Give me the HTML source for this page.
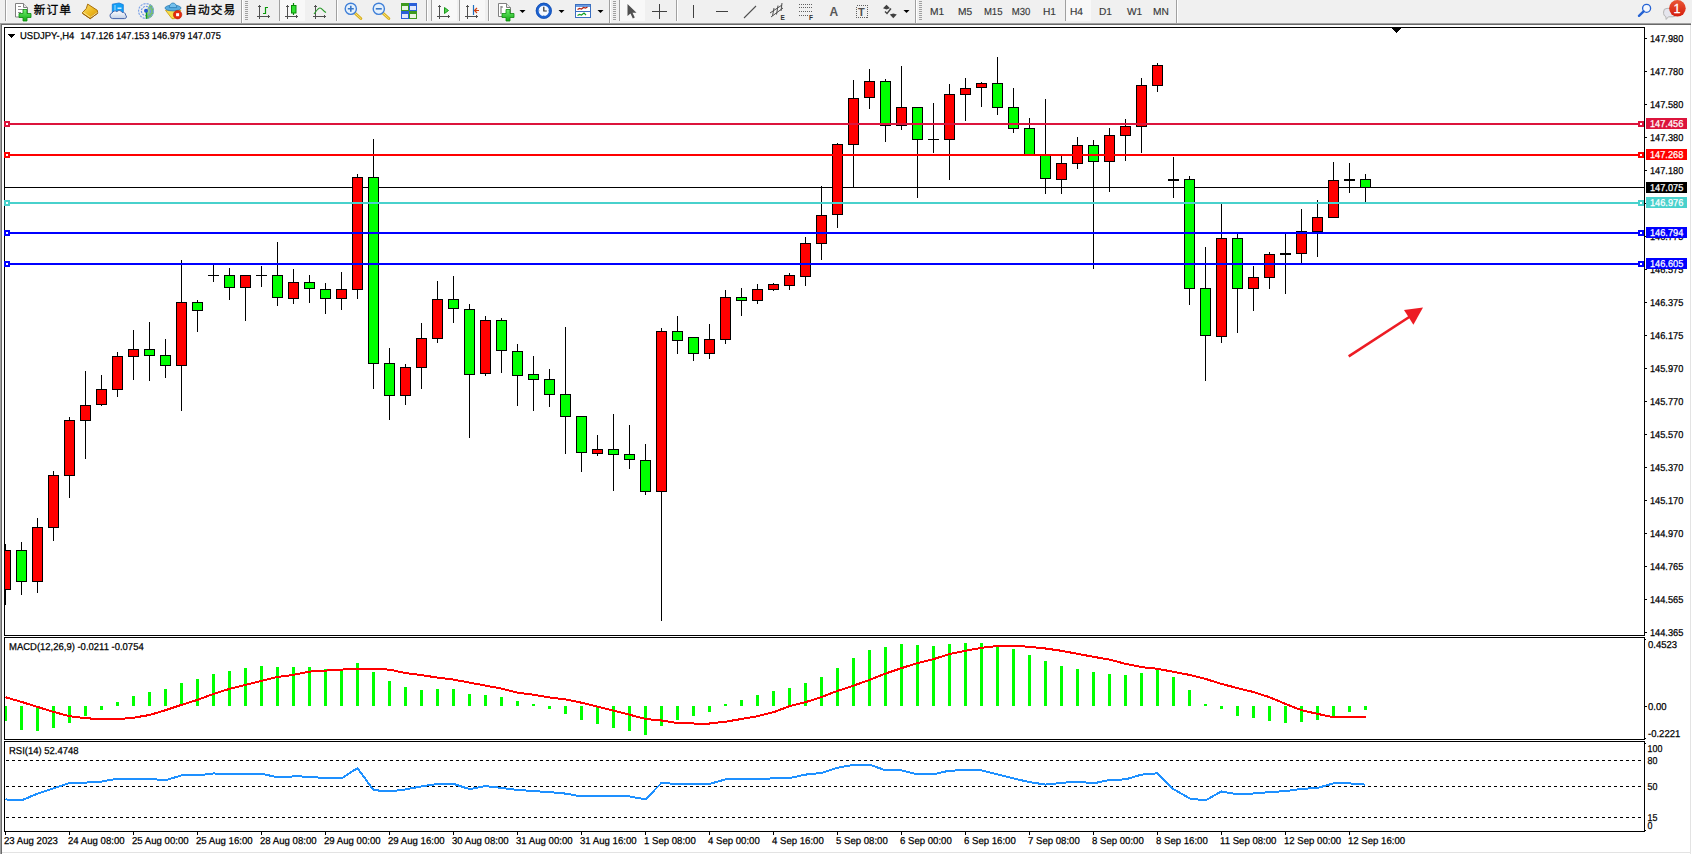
<!DOCTYPE html>
<html><head><meta charset="utf-8"><title>USDJPY-,H4</title>
<style>
html,body{margin:0;padding:0;background:#fff;}
body{width:1692px;height:854px;overflow:hidden;position:relative;font-family:"Liberation Sans","Noto Sans CJK SC",sans-serif;}
#tb{position:absolute;left:0;top:0;width:1692px;height:23px;background:#f0f0f0;overflow:hidden;}
#tb .t{position:absolute;white-space:nowrap;color:#000;}
#tb .cn{font-size:11.7px;line-height:14px;top:3.2px;letter-spacing:1.1px;-webkit-text-stroke:0.3px #000;}
#tb .tf{font-size:9.5px;line-height:12px;top:6px;color:#3c3c3c;}
#tb svg{position:absolute;left:0;top:0;}
#chart{position:absolute;left:0;top:23px;display:block;}
</style></head>
<body>
<div id="tb">
<svg width="1692" height="23" viewBox="0 0 1692 23">
<rect x="5" y="0" width="1" height="21" fill="#a0a0a0" shape-rendering="crispEdges"/><rect x="6" y="0" width="1" height="21" fill="#fff" shape-rendering="crispEdges"/>
<rect x="336" y="0" width="1" height="21" fill="#a0a0a0" shape-rendering="crispEdges"/><rect x="337" y="0" width="1" height="21" fill="#fff" shape-rendering="crispEdges"/>
<rect x="426" y="0" width="1" height="21" fill="#a0a0a0" shape-rendering="crispEdges"/><rect x="427" y="0" width="1" height="21" fill="#fff" shape-rendering="crispEdges"/>
<rect x="488" y="0" width="1" height="21" fill="#a0a0a0" shape-rendering="crispEdges"/><rect x="489" y="0" width="1" height="21" fill="#fff" shape-rendering="crispEdges"/>
<rect x="676" y="0" width="1" height="21" fill="#a0a0a0" shape-rendering="crispEdges"/><rect x="677" y="0" width="1" height="21" fill="#fff" shape-rendering="crispEdges"/>
<rect x="241" y="0" width="1" height="23" fill="#a0a0a0" shape-rendering="crispEdges"/><rect x="242" y="0" width="1" height="23" fill="#fff" shape-rendering="crispEdges"/>
<rect x="609" y="0" width="1" height="23" fill="#a0a0a0" shape-rendering="crispEdges"/><rect x="610" y="0" width="1" height="23" fill="#fff" shape-rendering="crispEdges"/>
<rect x="915" y="0" width="1" height="23" fill="#a0a0a0" shape-rendering="crispEdges"/><rect x="916" y="0" width="1" height="23" fill="#fff" shape-rendering="crispEdges"/>
<rect x="1176" y="0" width="1" height="23" fill="#a0a0a0" shape-rendering="crispEdges"/><rect x="1177" y="0" width="1" height="23" fill="#fff" shape-rendering="crispEdges"/>
<rect x="245" y="1" width="3" height="1" fill="#a0a0a0" shape-rendering="crispEdges"/><rect x="245" y="3" width="3" height="1" fill="#a0a0a0" shape-rendering="crispEdges"/><rect x="245" y="5" width="3" height="1" fill="#a0a0a0" shape-rendering="crispEdges"/><rect x="245" y="7" width="3" height="1" fill="#a0a0a0" shape-rendering="crispEdges"/><rect x="245" y="9" width="3" height="1" fill="#a0a0a0" shape-rendering="crispEdges"/><rect x="245" y="11" width="3" height="1" fill="#a0a0a0" shape-rendering="crispEdges"/><rect x="245" y="13" width="3" height="1" fill="#a0a0a0" shape-rendering="crispEdges"/><rect x="245" y="15" width="3" height="1" fill="#a0a0a0" shape-rendering="crispEdges"/><rect x="245" y="17" width="3" height="1" fill="#a0a0a0" shape-rendering="crispEdges"/><rect x="245" y="19" width="3" height="1" fill="#a0a0a0" shape-rendering="crispEdges"/>
<rect x="613" y="1" width="3" height="1" fill="#a0a0a0" shape-rendering="crispEdges"/><rect x="613" y="3" width="3" height="1" fill="#a0a0a0" shape-rendering="crispEdges"/><rect x="613" y="5" width="3" height="1" fill="#a0a0a0" shape-rendering="crispEdges"/><rect x="613" y="7" width="3" height="1" fill="#a0a0a0" shape-rendering="crispEdges"/><rect x="613" y="9" width="3" height="1" fill="#a0a0a0" shape-rendering="crispEdges"/><rect x="613" y="11" width="3" height="1" fill="#a0a0a0" shape-rendering="crispEdges"/><rect x="613" y="13" width="3" height="1" fill="#a0a0a0" shape-rendering="crispEdges"/><rect x="613" y="15" width="3" height="1" fill="#a0a0a0" shape-rendering="crispEdges"/><rect x="613" y="17" width="3" height="1" fill="#a0a0a0" shape-rendering="crispEdges"/><rect x="613" y="19" width="3" height="1" fill="#a0a0a0" shape-rendering="crispEdges"/>
<rect x="919" y="1" width="3" height="1" fill="#a0a0a0" shape-rendering="crispEdges"/><rect x="919" y="3" width="3" height="1" fill="#a0a0a0" shape-rendering="crispEdges"/><rect x="919" y="5" width="3" height="1" fill="#a0a0a0" shape-rendering="crispEdges"/><rect x="919" y="7" width="3" height="1" fill="#a0a0a0" shape-rendering="crispEdges"/><rect x="919" y="9" width="3" height="1" fill="#a0a0a0" shape-rendering="crispEdges"/><rect x="919" y="11" width="3" height="1" fill="#a0a0a0" shape-rendering="crispEdges"/><rect x="919" y="13" width="3" height="1" fill="#a0a0a0" shape-rendering="crispEdges"/><rect x="919" y="15" width="3" height="1" fill="#a0a0a0" shape-rendering="crispEdges"/><rect x="919" y="17" width="3" height="1" fill="#a0a0a0" shape-rendering="crispEdges"/><rect x="919" y="19" width="3" height="1" fill="#a0a0a0" shape-rendering="crispEdges"/>
<rect x="280" y="0" width="25" height="21" fill="#f8f8f8" shape-rendering="crispEdges"/><rect x="279" y="0" width="1" height="21" fill="#a0a0a0" shape-rendering="crispEdges"/>
<rect x="432" y="0" width="25" height="21" fill="#f8f8f8" shape-rendering="crispEdges"/><rect x="431" y="0" width="1" height="21" fill="#a0a0a0" shape-rendering="crispEdges"/>
<rect x="460" y="0" width="25" height="21" fill="#f8f8f8" shape-rendering="crispEdges"/><rect x="459" y="0" width="1" height="21" fill="#a0a0a0" shape-rendering="crispEdges"/>
<rect x="620" y="0" width="25" height="21" fill="#f8f8f8" shape-rendering="crispEdges"/><rect x="619" y="0" width="1" height="21" fill="#a0a0a0" shape-rendering="crispEdges"/>
<rect x="1066" y="0" width="25" height="21" fill="#f8f8f8" shape-rendering="crispEdges"/><rect x="1065" y="0" width="1" height="21" fill="#a0a0a0" shape-rendering="crispEdges"/>
<g><path d="M15.5 3.5h8l4 4v9.5h-12z" fill="#fff" stroke="#808080" stroke-width="1"/><path d="M23.5 3.5v4h4" fill="#e8e8e8" stroke="#808080" stroke-width="1"/><path d="M18 6.5h3M18 9.5h6M18 12.5h3" stroke="#909090" stroke-width="1"/><path d="M23 9.5h4v4h4v4h-4v3.5h-4v-3.5h-4v-4h4z" fill="url(#gp)" stroke="#0d8a0d" stroke-width="0.8"/></g>
<defs><linearGradient id="gd" x1="0" y1="0" x2="1" y2="1"><stop offset="0" stop-color="#fbe070"/><stop offset="0.55" stop-color="#ecb820"/><stop offset="1" stop-color="#d89a10"/></linearGradient><linearGradient id="cl" x1="0" y1="0" x2="0" y2="1"><stop offset="0" stop-color="#ffffff"/><stop offset="1" stop-color="#c4d0e6"/></linearGradient><linearGradient id="gp" x1="0" y1="0" x2="0" y2="1"><stop offset="0" stop-color="#6ff06f"/><stop offset="1" stop-color="#12a812"/></linearGradient><radialGradient id="sg" cx="146" cy="11" r="8" gradientUnits="userSpaceOnUse"><stop offset="0" stop-color="#2aa02a" stop-opacity="0.3"/><stop offset="1" stop-color="#2aa02a" stop-opacity="0.75"/></radialGradient></defs>
<g><path d="M87.7 4.1L97.3 10.3L97.8 13.1L90.2 18.6L82.2 12.9L86.3 8.5Z" fill="url(#gd)" stroke="#a8700c" stroke-width="1" stroke-linejoin="round"/><path d="M83.2 12.4l7.2 5" stroke="#fbe58a" stroke-width="1.1"/><path d="M91 17.3l6.3-4.6" stroke="#f2e8c0" stroke-width="1"/><path d="M82.4 13.4l7.8 5.3l7.5-5.5" fill="none" stroke="#9a620a" stroke-width="1"/></g>
<g><path d="M112.3 4.2l6.8-1.2l4.2 1.6v8.4h-11z" fill="#12a0f6" stroke="#1478d8" stroke-width="0.8"/><path d="M115 5v7" stroke="#9fdcff" stroke-width="1"/><path d="M117.5 8.2h4" stroke="#e8f6ff" stroke-width="1.3"/><path d="M112.6 18.6a2.9 2.9 0 0 1-.4-5.7a3.1 3.1 0 0 1 4.7-1.3a3.2 3.2 0 0 1 5.3.9a2.6 2.6 0 0 1 3.4 2.6a1.9 1.9 0 0 1-1 3.5z" fill="url(#cl)" stroke="#4664aa" stroke-width="1"/></g>
<g fill="none"><path d="M146 11v8a8 8 0 0 0 8-8a8 8 0 0 0-4-6.9z" fill="url(#sg)"/><circle cx="146" cy="11" r="7.4" stroke="#7fa4e8" stroke-width="1.2" stroke-dasharray="2.2 1"/><circle cx="146" cy="11" r="4.6" stroke="#6f98e4" stroke-width="1.2" stroke-dasharray="2 1"/><path d="M146.5 11v7.8" stroke="#18a018" stroke-width="1.5"/><circle cx="146" cy="10.8" r="2" fill="#2458d4"/></g>
<g><path d="M165.5 10.3h15.3l-6.3 8.4h-2.5z" fill="#f8dc48" stroke="#c89a08" stroke-width="0.8" stroke-linejoin="round"/><ellipse cx="173" cy="8" rx="8" ry="2.9" fill="#58acdf" stroke="#2a7cb4" stroke-width="0.8"/><path d="M169.3 7.6a3.7 4.6 0 0 1 7.4 0z" fill="#74c0ec" stroke="#2a7cb4" stroke-width="0.8"/><circle cx="177.6" cy="14.7" r="4.2" fill="#e62a0c" stroke="#b41c06" stroke-width="0.6"/><rect x="176.1" y="13.2" width="3" height="3" fill="#fff"/></g>
<g fill="#505050" shape-rendering="crispEdges"><rect x="259" y="5" width="1" height="14"/><rect x="257" y="16" width="13" height="1"/><rect x="258" y="6" width="3" height="1"/><rect x="268" y="15" width="1" height="3"/></g>
<path d="M265.5 7v7M265.5 7.5h2.5M263 13.5h2.5" stroke="#0a9a0a" stroke-width="1.2" fill="none"/>
<g fill="#505050" shape-rendering="crispEdges"><rect x="287" y="5" width="1" height="14"/><rect x="285" y="16" width="13" height="1"/><rect x="286" y="6" width="3" height="1"/><rect x="296" y="15" width="1" height="3"/></g>
<path d="M293.5 3v12" stroke="#0a8a0a" stroke-width="1.2"/><rect x="291.5" y="5.5" width="4.5" height="7.5" fill="#30e030" stroke="#0a8a0a" stroke-width="1"/>
<g fill="#505050" shape-rendering="crispEdges"><rect x="315" y="5" width="1" height="14"/><rect x="313" y="16" width="13" height="1"/><rect x="314" y="6" width="3" height="1"/><rect x="324" y="15" width="1" height="3"/></g>
<path d="M314 14c3-4 4-6 6-6s3 3 6 4.5" stroke="#2a9a2a" stroke-width="1.2" fill="none"/>
<g><path d="M354.8 13l6 5.5" stroke="#d8b020" stroke-width="3" stroke-linecap="round"/><path d="M354.8 13l6 5.5" stroke="#f8e070" stroke-width="1" stroke-linecap="round"/><circle cx="350.8" cy="8.8" r="5.6" fill="#e4f0fc" stroke="#3f7fd8" stroke-width="1.4"/><path d="M347.8 8.8h6M350.8 5.8v6" stroke="#3a78c8" stroke-width="1.6"/></g>
<g><path d="M382.8 13l6 5.5" stroke="#d8b020" stroke-width="3" stroke-linecap="round"/><path d="M382.8 13l6 5.5" stroke="#f8e070" stroke-width="1" stroke-linecap="round"/><circle cx="378.8" cy="8.8" r="5.6" fill="#e4f0fc" stroke="#3f7fd8" stroke-width="1.4"/><path d="M375.8 8.8h6" stroke="#3a78c8" stroke-width="1.6"/></g>
<g shape-rendering="crispEdges"><rect x="401" y="3" width="8" height="8" fill="#3e9a1e"/><rect x="409" y="3" width="8" height="8" fill="#2a5fd8"/><rect x="401" y="11" width="8" height="8" fill="#2a5fd8"/><rect x="409" y="11" width="8" height="8" fill="#3e9a1e"/><rect x="402" y="6" width="6" height="4" fill="#e8f4e0"/><rect x="410" y="6" width="6" height="4" fill="#e0e8fc"/><rect x="402" y="14" width="6" height="4" fill="#e0e8fc"/><rect x="410" y="14" width="6" height="4" fill="#e8f4e0"/></g>
<g fill="#505050" shape-rendering="crispEdges"><rect x="439" y="5" width="1" height="14"/><rect x="437" y="16" width="13" height="1"/><rect x="438" y="6" width="3" height="1"/><rect x="448" y="15" width="1" height="3"/></g>
<path d="M444.5 7.5v6l4-3z" fill="#50d050" stroke="#1a9a1a" stroke-width="1"/>
<g fill="#505050" shape-rendering="crispEdges"><rect x="467" y="5" width="1" height="14"/><rect x="465" y="16" width="13" height="1"/><rect x="466" y="6" width="3" height="1"/><rect x="476" y="15" width="1" height="3"/></g>
<path d="M473.5 5v10" stroke="#2070c0" stroke-width="1.2"/><path d="M479 10.5h-4M477 8l-2.5 2.5l2.5 2.5" stroke="#d04010" stroke-width="1.2" fill="none"/>
<g><path d="M498.5 3.5h8l4 4v9h-12z" fill="#fff" stroke="#808080" stroke-width="1"/><path d="M506.5 3.5v4h4" fill="#e8e8e8" stroke="#808080" stroke-width="1"/><path d="M501 6v8M501 7h2" stroke="#707070" stroke-width="1" fill="none"/><path d="M506 9.5h4v4h4v4h-4v3.5h-4v-3.5h-4v-4h4z" fill="url(#gp)" stroke="#0d8a0d" stroke-width="0.8"/></g>
<path d="M519.5 10h6l-3 3z" fill="#000"/>
<g><circle cx="543.8" cy="10.8" r="6.6" fill="#f4f8ff" stroke="#1c62d0" stroke-width="2.8"/><circle cx="543.8" cy="10.8" r="7.7" fill="none" stroke="#0c44a8" stroke-width="0.6"/><path d="M543.8 7v4h3" stroke="#303030" stroke-width="1.2" fill="none"/><path d="M543.8 5.6v1M543.8 15v1M538.6 10.8h1M548 10.8h1" stroke="#6080b0" stroke-width="0.8"/></g>
<path d="M558.5 10h6l-3 3z" fill="#000"/>
<g><rect x="575.5" y="4.5" width="15" height="13" fill="#fff" stroke="#3a6fc0" stroke-width="1"/><rect x="576" y="5" width="14" height="2" fill="#6a9ae0"/><path d="M576 11.5h14" stroke="#3a6fc0" stroke-width="1"/><path d="M577.5 9.5l2-1l2 .5l2-1.5l2 .5l2-1" stroke="#b02010" stroke-width="1.2" fill="none"/><path d="M577.5 15.5l2-1l2 .5l2.5-2l2 2" stroke="#10a020" stroke-width="1.2" fill="none"/></g>
<path d="M597.5 10h6l-3 3z" fill="#000"/>
<path d="M627.5 4v12l3-2.5l2.3 5l2-1l-2.3-4.8h4z" fill="#505050"/>
<path d="M659.5 4v15M652 11.5h15" stroke="#404040" stroke-width="1" shape-rendering="crispEdges"/>
<path d="M693.5 5v13M716 11.5h12" stroke="#404040" stroke-width="1" shape-rendering="crispEdges"/>
<path d="M744 18L756 6" stroke="#505050" stroke-width="1.1"/>
<g stroke="#505050" stroke-width="1" fill="none"><path d="M770 13l12-8M771 17l12-9M774 8l-1.5 8M778 5.5l-1.5 9M782 3l-1 8"/></g>
<text x="780.5" y="20" font-family="Liberation Sans, sans-serif" font-size="6.5" font-weight="bold" fill="#303030">E</text>
<g stroke="#606060" stroke-width="1" stroke-dasharray="1 1" shape-rendering="crispEdges"><path d="M799 4.5h14M799 7.5h14M799 11.5h14M799 15.5h10"/></g>
<text x="809" y="20" font-family="Liberation Sans, sans-serif" font-size="6.5" font-weight="bold" fill="#303030">F</text>
<text x="829.5" y="16" font-family="Liberation Sans, sans-serif" font-size="12" font-weight="bold" fill="#585858">A</text>
<rect x="856.5" y="5.5" width="11" height="12" fill="none" stroke="#606060" stroke-width="1" stroke-dasharray="1 1" shape-rendering="crispEdges"/>
<text x="858" y="16" font-family="Liberation Sans, sans-serif" font-size="11" font-weight="bold" fill="#505050">T</text>
<g fill="#404040"><path d="M883 8.2l3.5-3.4l3.5 3.4l-3.5 1.2z"/><path d="M889.8 14.6l3.5-1.2l3.5 1.2l-3.5 3.6z"/><path d="M885 11.5l2 2l4-5" stroke="#404040" stroke-width="1.3" fill="none"/></g>
<path d="M903.5 10h6l-3 3z" fill="#000"/>
<g><circle cx="1646.6" cy="8.3" r="4" fill="#f4f7fd" stroke="#2462d4" stroke-width="1.3"/><path d="M1643.6 11.4l-4.6 4.4" stroke="#2462d4" stroke-width="2.4" stroke-linecap="round"/></g>
<defs><linearGradient id="bd" x1="0" y1="0" x2="0" y2="1"><stop offset="0" stop-color="#ea5636"/><stop offset="1" stop-color="#d41c0c"/></linearGradient></defs>
<g><path d="M1663.6 12a3.4 3.4 0 0 1 3.4-3.6h6a3.4 3.4 0 0 1 3.4 3.6v1.4a3.4 3.4 0 0 1-3.4 3.4h-4.6l-2.2 2.6l-.4-2.8a3.4 3.4 0 0 1-2.2-3.2z" fill="#e6e6ee" stroke="#b4b4b4" stroke-width="1"/><circle cx="1677.4" cy="8.3" r="8.3" fill="url(#bd)"/><text x="1677" y="12.8" text-anchor="middle" font-family="Liberation Sans, sans-serif" font-size="12.5" fill="#fff" stroke="#fff" stroke-width="0.3">1</text></g>
<g font-family="Liberation Sans, sans-serif" font-size="10.2" text-rendering="geometricPrecision" fill="#383838" stroke="#383838" stroke-width="0.15">
<text x="930.0" y="15">M1</text>
<text x="958.0" y="15">M5</text>
<text x="983.9" y="15" textLength="18.6" lengthAdjust="spacingAndGlyphs">M15</text>
<text x="1011.8" y="15" textLength="18.6" lengthAdjust="spacingAndGlyphs">M30</text>
<text x="1042.9" y="15">H1</text>
<text x="1070.0" y="15">H4</text>
<text x="1099.0" y="15">D1</text>
<text x="1127.0" y="15">W1</text>
<text x="1153.0" y="15">MN</text>
</g>
</svg>
<span class="t cn" style="left:33.8px">新订单</span>
<span class="t cn" style="left:185.1px">自动交易</span>
</div>
<svg id="chart" width="1692" height="831" viewBox="0 23 1692 831" shape-rendering="crispEdges">
<defs><clipPath id="cm"><rect x="5" y="28" width="1639" height="607"/></clipPath><clipPath id="c2"><rect x="5" y="638" width="1639" height="101"/></clipPath><clipPath id="c3"><rect x="5" y="742" width="1639" height="89"/></clipPath></defs>
<rect x="0" y="23" width="1692" height="831" fill="#fff"/>
<rect x="0" y="23" width="1691" height="1" fill="#a0a0a0"/>
<rect x="1" y="24" width="1690" height="1" fill="#696969"/>
<rect x="0" y="23" width="1" height="831" fill="#a0a0a0"/>
<rect x="1" y="24" width="1" height="830" fill="#696969"/>
<rect x="1690" y="25" width="1" height="829" fill="#e3e3e3"/>
<rect x="2" y="852" width="1689" height="1" fill="#e3e3e3"/>
<rect x="4" y="27" width="1641" height="1" fill="#000"/>
<rect x="4" y="27" width="1" height="609" fill="#000"/>
<rect x="4" y="635" width="1641" height="1" fill="#000"/>
<rect x="4" y="637" width="1641" height="1" fill="#000"/>
<rect x="4" y="637" width="1" height="103" fill="#000"/>
<rect x="4" y="739" width="1641" height="1" fill="#000"/>
<rect x="4" y="741" width="1641" height="1" fill="#000"/>
<rect x="4" y="741" width="1" height="91" fill="#000"/>
<rect x="4" y="831" width="1641" height="1" fill="#000"/>
<rect x="1645" y="639" width="1" height="1" fill="#000"/>
<rect x="1645" y="738" width="1" height="1" fill="#000"/>
<rect x="1645" y="743" width="1" height="1" fill="#000"/>
<rect x="1645" y="830" width="1" height="1" fill="#000"/>
<rect x="1644" y="27" width="1" height="609" fill="#000"/>
<rect x="1644" y="637" width="1" height="103" fill="#000"/>
<rect x="1644" y="741" width="1" height="91" fill="#000"/>
<rect x="5" y="187" width="1639" height="1" fill="#000"/>
<rect x="1392" y="28" width="9" height="1" fill="#000"/>
<rect x="1393" y="29" width="7" height="1" fill="#000"/>
<rect x="1394" y="30" width="5" height="1" fill="#000"/>
<rect x="1395" y="31" width="3" height="1" fill="#000"/>
<rect x="1396" y="32" width="1" height="1" fill="#000"/>
<g clip-path="url(#cm)">
<rect x="5" y="544" width="1" height="61" fill="#000"/>
<rect x="0" y="550" width="11" height="40" fill="#000"/>
<rect x="1" y="551" width="9" height="38" fill="#ff0000"/>
<rect x="21" y="542" width="1" height="53" fill="#000"/>
<rect x="16" y="550" width="11" height="32" fill="#000"/>
<rect x="17" y="551" width="9" height="30" fill="#00ff00"/>
<rect x="37" y="518" width="1" height="75" fill="#000"/>
<rect x="32" y="527" width="11" height="55" fill="#000"/>
<rect x="33" y="528" width="9" height="53" fill="#ff0000"/>
<rect x="53" y="471" width="1" height="70" fill="#000"/>
<rect x="48" y="475" width="11" height="53" fill="#000"/>
<rect x="49" y="476" width="9" height="51" fill="#ff0000"/>
<rect x="69" y="417" width="1" height="81" fill="#000"/>
<rect x="64" y="420" width="11" height="56" fill="#000"/>
<rect x="65" y="421" width="9" height="54" fill="#ff0000"/>
<rect x="85" y="371" width="1" height="88" fill="#000"/>
<rect x="80" y="405" width="11" height="16" fill="#000"/>
<rect x="81" y="406" width="9" height="14" fill="#ff0000"/>
<rect x="101" y="375" width="1" height="31" fill="#000"/>
<rect x="96" y="389" width="11" height="16" fill="#000"/>
<rect x="97" y="390" width="9" height="14" fill="#ff0000"/>
<rect x="117" y="352" width="1" height="45" fill="#000"/>
<rect x="112" y="356" width="11" height="34" fill="#000"/>
<rect x="113" y="357" width="9" height="32" fill="#ff0000"/>
<rect x="133" y="330" width="1" height="50" fill="#000"/>
<rect x="128" y="349" width="11" height="8" fill="#000"/>
<rect x="129" y="350" width="9" height="6" fill="#ff0000"/>
<rect x="149" y="322" width="1" height="59" fill="#000"/>
<rect x="144" y="349" width="11" height="7" fill="#000"/>
<rect x="145" y="350" width="9" height="5" fill="#00ff00"/>
<rect x="165" y="339" width="1" height="39" fill="#000"/>
<rect x="160" y="355" width="11" height="11" fill="#000"/>
<rect x="161" y="356" width="9" height="9" fill="#00ff00"/>
<rect x="181" y="260" width="1" height="151" fill="#000"/>
<rect x="176" y="302" width="11" height="64" fill="#000"/>
<rect x="177" y="303" width="9" height="62" fill="#ff0000"/>
<rect x="197" y="300" width="1" height="32" fill="#000"/>
<rect x="192" y="302" width="11" height="9" fill="#000"/>
<rect x="193" y="303" width="9" height="7" fill="#00ff00"/>
<rect x="213" y="265" width="1" height="17" fill="#000"/>
<rect x="208" y="275" width="11" height="1" fill="#000"/>
<rect x="229" y="268" width="1" height="32" fill="#000"/>
<rect x="224" y="275" width="11" height="13" fill="#000"/>
<rect x="225" y="276" width="9" height="11" fill="#00ff00"/>
<rect x="245" y="275" width="1" height="46" fill="#000"/>
<rect x="240" y="275" width="11" height="13" fill="#000"/>
<rect x="241" y="276" width="9" height="11" fill="#ff0000"/>
<rect x="261" y="266" width="1" height="21" fill="#000"/>
<rect x="256" y="275" width="11" height="1" fill="#000"/>
<rect x="277" y="242" width="1" height="64" fill="#000"/>
<rect x="272" y="275" width="11" height="23" fill="#000"/>
<rect x="273" y="276" width="9" height="21" fill="#00ff00"/>
<rect x="293" y="269" width="1" height="35" fill="#000"/>
<rect x="288" y="282" width="11" height="17" fill="#000"/>
<rect x="289" y="283" width="9" height="15" fill="#ff0000"/>
<rect x="309" y="275" width="1" height="28" fill="#000"/>
<rect x="304" y="282" width="11" height="7" fill="#000"/>
<rect x="305" y="283" width="9" height="5" fill="#00ff00"/>
<rect x="325" y="283" width="1" height="31" fill="#000"/>
<rect x="320" y="289" width="11" height="10" fill="#000"/>
<rect x="321" y="290" width="9" height="8" fill="#00ff00"/>
<rect x="341" y="272" width="1" height="38" fill="#000"/>
<rect x="336" y="289" width="11" height="10" fill="#000"/>
<rect x="337" y="290" width="9" height="8" fill="#ff0000"/>
<rect x="357" y="174" width="1" height="125" fill="#000"/>
<rect x="352" y="177" width="11" height="113" fill="#000"/>
<rect x="353" y="178" width="9" height="111" fill="#ff0000"/>
<rect x="373" y="139" width="1" height="250" fill="#000"/>
<rect x="368" y="177" width="11" height="187" fill="#000"/>
<rect x="369" y="178" width="9" height="185" fill="#00ff00"/>
<rect x="389" y="348" width="1" height="72" fill="#000"/>
<rect x="384" y="363" width="11" height="33" fill="#000"/>
<rect x="385" y="364" width="9" height="31" fill="#00ff00"/>
<rect x="405" y="364" width="1" height="41" fill="#000"/>
<rect x="400" y="367" width="11" height="29" fill="#000"/>
<rect x="401" y="368" width="9" height="27" fill="#ff0000"/>
<rect x="421" y="323" width="1" height="66" fill="#000"/>
<rect x="416" y="338" width="11" height="30" fill="#000"/>
<rect x="417" y="339" width="9" height="28" fill="#ff0000"/>
<rect x="437" y="281" width="1" height="62" fill="#000"/>
<rect x="432" y="299" width="11" height="40" fill="#000"/>
<rect x="433" y="300" width="9" height="38" fill="#ff0000"/>
<rect x="453" y="276" width="1" height="47" fill="#000"/>
<rect x="448" y="299" width="11" height="10" fill="#000"/>
<rect x="449" y="300" width="9" height="8" fill="#00ff00"/>
<rect x="469" y="304" width="1" height="134" fill="#000"/>
<rect x="464" y="309" width="11" height="66" fill="#000"/>
<rect x="465" y="310" width="9" height="64" fill="#00ff00"/>
<rect x="485" y="316" width="1" height="60" fill="#000"/>
<rect x="480" y="320" width="11" height="54" fill="#000"/>
<rect x="481" y="321" width="9" height="52" fill="#ff0000"/>
<rect x="501" y="318" width="1" height="55" fill="#000"/>
<rect x="496" y="320" width="11" height="31" fill="#000"/>
<rect x="497" y="321" width="9" height="29" fill="#00ff00"/>
<rect x="517" y="344" width="1" height="62" fill="#000"/>
<rect x="512" y="351" width="11" height="25" fill="#000"/>
<rect x="513" y="352" width="9" height="23" fill="#00ff00"/>
<rect x="533" y="356" width="1" height="55" fill="#000"/>
<rect x="528" y="374" width="11" height="6" fill="#000"/>
<rect x="529" y="375" width="9" height="4" fill="#00ff00"/>
<rect x="549" y="369" width="1" height="38" fill="#000"/>
<rect x="544" y="379" width="11" height="16" fill="#000"/>
<rect x="545" y="380" width="9" height="14" fill="#00ff00"/>
<rect x="565" y="327" width="1" height="127" fill="#000"/>
<rect x="560" y="394" width="11" height="23" fill="#000"/>
<rect x="561" y="395" width="9" height="21" fill="#00ff00"/>
<rect x="581" y="416" width="1" height="56" fill="#000"/>
<rect x="576" y="416" width="11" height="37" fill="#000"/>
<rect x="577" y="417" width="9" height="35" fill="#00ff00"/>
<rect x="597" y="435" width="1" height="21" fill="#000"/>
<rect x="592" y="449" width="11" height="5" fill="#000"/>
<rect x="593" y="450" width="9" height="3" fill="#ff0000"/>
<rect x="613" y="414" width="1" height="77" fill="#000"/>
<rect x="608" y="449" width="11" height="6" fill="#000"/>
<rect x="609" y="450" width="9" height="4" fill="#00ff00"/>
<rect x="629" y="425" width="1" height="44" fill="#000"/>
<rect x="624" y="454" width="11" height="6" fill="#000"/>
<rect x="625" y="455" width="9" height="4" fill="#00ff00"/>
<rect x="645" y="444" width="1" height="51" fill="#000"/>
<rect x="640" y="460" width="11" height="32" fill="#000"/>
<rect x="641" y="461" width="9" height="30" fill="#00ff00"/>
<rect x="661" y="328" width="1" height="293" fill="#000"/>
<rect x="656" y="331" width="11" height="161" fill="#000"/>
<rect x="657" y="332" width="9" height="159" fill="#ff0000"/>
<rect x="677" y="316" width="1" height="38" fill="#000"/>
<rect x="672" y="331" width="11" height="10" fill="#000"/>
<rect x="673" y="332" width="9" height="8" fill="#00ff00"/>
<rect x="693" y="337" width="1" height="24" fill="#000"/>
<rect x="688" y="337" width="11" height="17" fill="#000"/>
<rect x="689" y="338" width="9" height="15" fill="#00ff00"/>
<rect x="709" y="324" width="1" height="35" fill="#000"/>
<rect x="704" y="339" width="11" height="15" fill="#000"/>
<rect x="705" y="340" width="9" height="13" fill="#ff0000"/>
<rect x="725" y="290" width="1" height="54" fill="#000"/>
<rect x="720" y="297" width="11" height="43" fill="#000"/>
<rect x="721" y="298" width="9" height="41" fill="#ff0000"/>
<rect x="741" y="288" width="1" height="28" fill="#000"/>
<rect x="736" y="297" width="11" height="4" fill="#000"/>
<rect x="737" y="298" width="9" height="2" fill="#00ff00"/>
<rect x="757" y="284" width="1" height="20" fill="#000"/>
<rect x="752" y="289" width="11" height="12" fill="#000"/>
<rect x="753" y="290" width="9" height="10" fill="#ff0000"/>
<rect x="773" y="283" width="1" height="8" fill="#000"/>
<rect x="768" y="284" width="11" height="6" fill="#000"/>
<rect x="769" y="285" width="9" height="4" fill="#ff0000"/>
<rect x="789" y="273" width="1" height="17" fill="#000"/>
<rect x="784" y="275" width="11" height="11" fill="#000"/>
<rect x="785" y="276" width="9" height="9" fill="#ff0000"/>
<rect x="805" y="237" width="1" height="49" fill="#000"/>
<rect x="800" y="243" width="11" height="34" fill="#000"/>
<rect x="801" y="244" width="9" height="32" fill="#ff0000"/>
<rect x="821" y="186" width="1" height="74" fill="#000"/>
<rect x="816" y="215" width="11" height="29" fill="#000"/>
<rect x="817" y="216" width="9" height="27" fill="#ff0000"/>
<rect x="837" y="143" width="1" height="85" fill="#000"/>
<rect x="832" y="144" width="11" height="71" fill="#000"/>
<rect x="833" y="145" width="9" height="69" fill="#ff0000"/>
<rect x="853" y="80" width="1" height="108" fill="#000"/>
<rect x="848" y="98" width="11" height="47" fill="#000"/>
<rect x="849" y="99" width="9" height="45" fill="#ff0000"/>
<rect x="869" y="69" width="1" height="40" fill="#000"/>
<rect x="864" y="81" width="11" height="17" fill="#000"/>
<rect x="865" y="82" width="9" height="15" fill="#ff0000"/>
<rect x="885" y="79" width="1" height="63" fill="#000"/>
<rect x="880" y="81" width="11" height="45" fill="#000"/>
<rect x="881" y="82" width="9" height="43" fill="#00ff00"/>
<rect x="901" y="66" width="1" height="64" fill="#000"/>
<rect x="896" y="107" width="11" height="19" fill="#000"/>
<rect x="897" y="108" width="9" height="17" fill="#ff0000"/>
<rect x="917" y="107" width="1" height="91" fill="#000"/>
<rect x="912" y="107" width="11" height="33" fill="#000"/>
<rect x="913" y="108" width="9" height="31" fill="#00ff00"/>
<rect x="933" y="103" width="1" height="50" fill="#000"/>
<rect x="928" y="139" width="11" height="1" fill="#000"/>
<rect x="949" y="84" width="1" height="96" fill="#000"/>
<rect x="944" y="94" width="11" height="46" fill="#000"/>
<rect x="945" y="95" width="9" height="44" fill="#ff0000"/>
<rect x="965" y="78" width="1" height="43" fill="#000"/>
<rect x="960" y="88" width="11" height="7" fill="#000"/>
<rect x="961" y="89" width="9" height="5" fill="#ff0000"/>
<rect x="981" y="82" width="1" height="25" fill="#000"/>
<rect x="976" y="83" width="11" height="5" fill="#000"/>
<rect x="977" y="84" width="9" height="3" fill="#ff0000"/>
<rect x="997" y="57" width="1" height="58" fill="#000"/>
<rect x="992" y="83" width="11" height="25" fill="#000"/>
<rect x="993" y="84" width="9" height="23" fill="#00ff00"/>
<rect x="1013" y="88" width="1" height="45" fill="#000"/>
<rect x="1008" y="107" width="11" height="22" fill="#000"/>
<rect x="1009" y="108" width="9" height="20" fill="#00ff00"/>
<rect x="1029" y="118" width="1" height="37" fill="#000"/>
<rect x="1024" y="128" width="11" height="27" fill="#000"/>
<rect x="1025" y="129" width="9" height="25" fill="#00ff00"/>
<rect x="1045" y="99" width="1" height="95" fill="#000"/>
<rect x="1040" y="154" width="11" height="25" fill="#000"/>
<rect x="1041" y="155" width="9" height="23" fill="#00ff00"/>
<rect x="1061" y="156" width="1" height="38" fill="#000"/>
<rect x="1056" y="163" width="11" height="17" fill="#000"/>
<rect x="1057" y="164" width="9" height="15" fill="#ff0000"/>
<rect x="1077" y="137" width="1" height="32" fill="#000"/>
<rect x="1072" y="145" width="11" height="19" fill="#000"/>
<rect x="1073" y="146" width="9" height="17" fill="#ff0000"/>
<rect x="1093" y="140" width="1" height="129" fill="#000"/>
<rect x="1088" y="145" width="11" height="17" fill="#000"/>
<rect x="1089" y="146" width="9" height="15" fill="#00ff00"/>
<rect x="1109" y="128" width="1" height="64" fill="#000"/>
<rect x="1104" y="135" width="11" height="27" fill="#000"/>
<rect x="1105" y="136" width="9" height="25" fill="#ff0000"/>
<rect x="1125" y="119" width="1" height="42" fill="#000"/>
<rect x="1120" y="126" width="11" height="10" fill="#000"/>
<rect x="1121" y="127" width="9" height="8" fill="#ff0000"/>
<rect x="1141" y="78" width="1" height="75" fill="#000"/>
<rect x="1136" y="85" width="11" height="42" fill="#000"/>
<rect x="1137" y="86" width="9" height="40" fill="#ff0000"/>
<rect x="1157" y="63" width="1" height="29" fill="#000"/>
<rect x="1152" y="65" width="11" height="21" fill="#000"/>
<rect x="1153" y="66" width="9" height="19" fill="#ff0000"/>
<rect x="1173" y="157" width="1" height="41" fill="#000"/>
<rect x="1168" y="179" width="11" height="2" fill="#000"/>
<rect x="1189" y="176" width="1" height="129" fill="#000"/>
<rect x="1184" y="179" width="11" height="110" fill="#000"/>
<rect x="1185" y="180" width="9" height="108" fill="#00ff00"/>
<rect x="1205" y="247" width="1" height="134" fill="#000"/>
<rect x="1200" y="288" width="11" height="48" fill="#000"/>
<rect x="1201" y="289" width="9" height="46" fill="#00ff00"/>
<rect x="1221" y="204" width="1" height="139" fill="#000"/>
<rect x="1216" y="238" width="11" height="99" fill="#000"/>
<rect x="1217" y="239" width="9" height="97" fill="#ff0000"/>
<rect x="1237" y="234" width="1" height="99" fill="#000"/>
<rect x="1232" y="238" width="11" height="51" fill="#000"/>
<rect x="1233" y="239" width="9" height="49" fill="#00ff00"/>
<rect x="1253" y="266" width="1" height="45" fill="#000"/>
<rect x="1248" y="277" width="11" height="12" fill="#000"/>
<rect x="1249" y="278" width="9" height="10" fill="#ff0000"/>
<rect x="1269" y="252" width="1" height="37" fill="#000"/>
<rect x="1264" y="254" width="11" height="24" fill="#000"/>
<rect x="1265" y="255" width="9" height="22" fill="#ff0000"/>
<rect x="1285" y="234" width="1" height="60" fill="#000"/>
<rect x="1280" y="253" width="11" height="2" fill="#000"/>
<rect x="1301" y="209" width="1" height="55" fill="#000"/>
<rect x="1296" y="231" width="11" height="23" fill="#000"/>
<rect x="1297" y="232" width="9" height="21" fill="#ff0000"/>
<rect x="1317" y="200" width="1" height="57" fill="#000"/>
<rect x="1312" y="217" width="11" height="15" fill="#000"/>
<rect x="1313" y="218" width="9" height="13" fill="#ff0000"/>
<rect x="1333" y="162" width="1" height="56" fill="#000"/>
<rect x="1328" y="180" width="11" height="38" fill="#000"/>
<rect x="1329" y="181" width="9" height="36" fill="#ff0000"/>
<rect x="1349" y="163" width="1" height="30" fill="#000"/>
<rect x="1344" y="179" width="11" height="2" fill="#000"/>
<rect x="1365" y="174" width="1" height="28" fill="#000"/>
<rect x="1360" y="179" width="11" height="9" fill="#000"/>
<rect x="1361" y="180" width="9" height="7" fill="#00ff00"/>
</g>
<rect x="5" y="123" width="1639" height="2" fill="#dc143c"/>
<rect x="4" y="121" width="6" height="6" fill="#dc143c"/>
<rect x="6" y="123" width="2" height="2" fill="#fff"/>
<rect x="1638" y="121" width="6" height="6" fill="#dc143c"/>
<rect x="1640" y="123" width="2" height="2" fill="#fff"/>
<rect x="5" y="154" width="1639" height="2" fill="#ff0000"/>
<rect x="4" y="152" width="6" height="6" fill="#ff0000"/>
<rect x="6" y="154" width="2" height="2" fill="#fff"/>
<rect x="1638" y="152" width="6" height="6" fill="#ff0000"/>
<rect x="1640" y="154" width="2" height="2" fill="#fff"/>
<rect x="5" y="202" width="1639" height="2" fill="#48d1cc"/>
<rect x="4" y="200" width="6" height="6" fill="#48d1cc"/>
<rect x="6" y="202" width="2" height="2" fill="#fff"/>
<rect x="1638" y="200" width="6" height="6" fill="#48d1cc"/>
<rect x="1640" y="202" width="2" height="2" fill="#fff"/>
<rect x="5" y="232" width="1639" height="2" fill="#0000ff"/>
<rect x="4" y="230" width="6" height="6" fill="#0000ff"/>
<rect x="6" y="232" width="2" height="2" fill="#fff"/>
<rect x="1638" y="230" width="6" height="6" fill="#0000ff"/>
<rect x="1640" y="232" width="2" height="2" fill="#fff"/>
<rect x="5" y="263" width="1639" height="2" fill="#0000ff"/>
<rect x="4" y="261" width="6" height="6" fill="#0000ff"/>
<rect x="6" y="263" width="2" height="2" fill="#fff"/>
<rect x="1638" y="261" width="6" height="6" fill="#0000ff"/>
<rect x="1640" y="263" width="2" height="2" fill="#fff"/>
<g font-family="Liberation Sans, sans-serif" font-size="10" text-rendering="geometricPrecision" stroke-width="0.25" fill="#000" stroke="#000" shape-rendering="auto">
<rect x="1645" y="38" width="2" height="1" fill="#000" stroke="none" shape-rendering="crispEdges"/>
<text transform="translate(1650 42) scale(0.9212 1)">147.980</text>
<rect x="1645" y="71" width="2" height="1" fill="#000" stroke="none" shape-rendering="crispEdges"/>
<text transform="translate(1650 75) scale(0.9212 1)">147.780</text>
<rect x="1645" y="104" width="2" height="1" fill="#000" stroke="none" shape-rendering="crispEdges"/>
<text transform="translate(1650 108) scale(0.9212 1)">147.580</text>
<rect x="1645" y="137" width="2" height="1" fill="#000" stroke="none" shape-rendering="crispEdges"/>
<text transform="translate(1650 141) scale(0.9212 1)">147.380</text>
<rect x="1645" y="170" width="2" height="1" fill="#000" stroke="none" shape-rendering="crispEdges"/>
<text transform="translate(1650 174) scale(0.9212 1)">147.180</text>
<rect x="1645" y="203" width="2" height="1" fill="#000" stroke="none" shape-rendering="crispEdges"/>
<text transform="translate(1650 207) scale(0.9212 1)">146.975</text>
<rect x="1645" y="236" width="2" height="1" fill="#000" stroke="none" shape-rendering="crispEdges"/>
<text transform="translate(1650 240) scale(0.9212 1)">146.775</text>
<rect x="1645" y="269" width="2" height="1" fill="#000" stroke="none" shape-rendering="crispEdges"/>
<text transform="translate(1650 273) scale(0.9212 1)">146.575</text>
<rect x="1645" y="302" width="2" height="1" fill="#000" stroke="none" shape-rendering="crispEdges"/>
<text transform="translate(1650 306) scale(0.9212 1)">146.375</text>
<rect x="1645" y="335" width="2" height="1" fill="#000" stroke="none" shape-rendering="crispEdges"/>
<text transform="translate(1650 339) scale(0.9212 1)">146.175</text>
<rect x="1645" y="368" width="2" height="1" fill="#000" stroke="none" shape-rendering="crispEdges"/>
<text transform="translate(1650 372) scale(0.9212 1)">145.970</text>
<rect x="1645" y="401" width="2" height="1" fill="#000" stroke="none" shape-rendering="crispEdges"/>
<text transform="translate(1650 405) scale(0.9212 1)">145.770</text>
<rect x="1645" y="434" width="2" height="1" fill="#000" stroke="none" shape-rendering="crispEdges"/>
<text transform="translate(1650 438) scale(0.9212 1)">145.570</text>
<rect x="1645" y="467" width="2" height="1" fill="#000" stroke="none" shape-rendering="crispEdges"/>
<text transform="translate(1650 471) scale(0.9212 1)">145.370</text>
<rect x="1645" y="500" width="2" height="1" fill="#000" stroke="none" shape-rendering="crispEdges"/>
<text transform="translate(1650 504) scale(0.9212 1)">145.170</text>
<rect x="1645" y="533" width="2" height="1" fill="#000" stroke="none" shape-rendering="crispEdges"/>
<text transform="translate(1650 537) scale(0.9212 1)">144.970</text>
<rect x="1645" y="566" width="2" height="1" fill="#000" stroke="none" shape-rendering="crispEdges"/>
<text transform="translate(1650 570) scale(0.9212 1)">144.765</text>
<rect x="1645" y="599" width="2" height="1" fill="#000" stroke="none" shape-rendering="crispEdges"/>
<text transform="translate(1650 603) scale(0.9212 1)">144.565</text>
<rect x="1645" y="632" width="2" height="1" fill="#000" stroke="none" shape-rendering="crispEdges"/>
<text transform="translate(1650 636) scale(0.9212 1)">144.365</text>
</g>
<g font-family="Liberation Sans, sans-serif" font-size="10" text-rendering="geometricPrecision" stroke-width="0.25" shape-rendering="auto">
<rect x="1646" y="118" width="41" height="11" fill="#dc143c" shape-rendering="crispEdges"/>
<text transform="translate(1650 127) scale(0.9212 1)" fill="#fff" stroke="#fff">147.456</text>
<rect x="1646" y="149" width="41" height="11" fill="#ff0000" shape-rendering="crispEdges"/>
<text transform="translate(1650 158) scale(0.9212 1)" fill="#fff" stroke="#fff">147.268</text>
<rect x="1646" y="197" width="41" height="11" fill="#48d1cc" shape-rendering="crispEdges"/>
<text transform="translate(1650 206) scale(0.9212 1)" fill="#fff" stroke="#fff">146.976</text>
<rect x="1646" y="227" width="41" height="11" fill="#0000ff" shape-rendering="crispEdges"/>
<text transform="translate(1650 236) scale(0.9212 1)" fill="#fff" stroke="#fff">146.794</text>
<rect x="1646" y="258" width="41" height="11" fill="#0000ff" shape-rendering="crispEdges"/>
<text transform="translate(1650 267) scale(0.9212 1)" fill="#fff" stroke="#fff">146.605</text>
<rect x="1646" y="182" width="41" height="11" fill="#000" shape-rendering="crispEdges"/>
<text transform="translate(1650 191) scale(0.9212 1)" fill="#fff" stroke="#fff">147.075</text>
</g>
<rect x="8" y="34" width="7" height="1" fill="#000"/>
<rect x="9" y="35" width="5" height="1" fill="#000"/>
<rect x="10" y="36" width="3" height="1" fill="#000"/>
<rect x="11" y="37" width="1" height="1" fill="#000"/>
<g font-family="Liberation Sans, sans-serif" font-size="10" text-rendering="geometricPrecision" stroke-width="0.25" shape-rendering="auto"><text transform="translate(20 39) scale(0.9467 1)" fill="#000" stroke="#000">USDJPY-,H4</text><text transform="translate(80.3 39) scale(0.919 1)" fill="#000" stroke="#000">147.126 147.153 146.979 147.075</text></g>
<g shape-rendering="auto"><line x1="1348.7" y1="356.3" x2="1410" y2="316.5" stroke="#ed1c24" stroke-width="2.6"/><path d="M1423 307.6L1404 310L1413.4 324.8z" fill="#ed1c24"/></g>
<g clip-path="url(#c2)">
<rect x="4" y="706" width="3" height="15" fill="#00ff00"/>
<rect x="20" y="706" width="3" height="24" fill="#00ff00"/>
<rect x="36" y="706" width="3" height="25" fill="#00ff00"/>
<rect x="52" y="706" width="3" height="22" fill="#00ff00"/>
<rect x="68" y="706" width="3" height="17" fill="#00ff00"/>
<rect x="84" y="706" width="3" height="10" fill="#00ff00"/>
<rect x="100" y="706" width="3" height="4" fill="#00ff00"/>
<rect x="116" y="702" width="3" height="4" fill="#00ff00"/>
<rect x="132" y="696" width="3" height="10" fill="#00ff00"/>
<rect x="148" y="692" width="3" height="14" fill="#00ff00"/>
<rect x="164" y="689" width="3" height="17" fill="#00ff00"/>
<rect x="180" y="683" width="3" height="23" fill="#00ff00"/>
<rect x="196" y="679" width="3" height="27" fill="#00ff00"/>
<rect x="212" y="674" width="3" height="32" fill="#00ff00"/>
<rect x="228" y="671" width="3" height="35" fill="#00ff00"/>
<rect x="244" y="668" width="3" height="38" fill="#00ff00"/>
<rect x="260" y="666" width="3" height="40" fill="#00ff00"/>
<rect x="276" y="667" width="3" height="39" fill="#00ff00"/>
<rect x="292" y="667" width="3" height="39" fill="#00ff00"/>
<rect x="308" y="667" width="3" height="39" fill="#00ff00"/>
<rect x="324" y="669" width="3" height="37" fill="#00ff00"/>
<rect x="340" y="670" width="3" height="36" fill="#00ff00"/>
<rect x="356" y="663" width="3" height="43" fill="#00ff00"/>
<rect x="372" y="672" width="3" height="34" fill="#00ff00"/>
<rect x="388" y="681" width="3" height="25" fill="#00ff00"/>
<rect x="404" y="687" width="3" height="19" fill="#00ff00"/>
<rect x="420" y="690" width="3" height="16" fill="#00ff00"/>
<rect x="436" y="689" width="3" height="17" fill="#00ff00"/>
<rect x="452" y="689" width="3" height="17" fill="#00ff00"/>
<rect x="468" y="694" width="3" height="12" fill="#00ff00"/>
<rect x="484" y="695" width="3" height="11" fill="#00ff00"/>
<rect x="500" y="697" width="3" height="9" fill="#00ff00"/>
<rect x="516" y="701" width="3" height="5" fill="#00ff00"/>
<rect x="532" y="704" width="3" height="2" fill="#00ff00"/>
<rect x="548" y="706" width="3" height="3" fill="#00ff00"/>
<rect x="564" y="706" width="3" height="8" fill="#00ff00"/>
<rect x="580" y="706" width="3" height="14" fill="#00ff00"/>
<rect x="596" y="706" width="3" height="18" fill="#00ff00"/>
<rect x="612" y="706" width="3" height="22" fill="#00ff00"/>
<rect x="628" y="706" width="3" height="25" fill="#00ff00"/>
<rect x="644" y="706" width="3" height="29" fill="#00ff00"/>
<rect x="660" y="706" width="3" height="20" fill="#00ff00"/>
<rect x="676" y="706" width="3" height="14" fill="#00ff00"/>
<rect x="692" y="706" width="3" height="10" fill="#00ff00"/>
<rect x="708" y="706" width="3" height="6" fill="#00ff00"/>
<rect x="724" y="704" width="3" height="2" fill="#00ff00"/>
<rect x="740" y="700" width="3" height="6" fill="#00ff00"/>
<rect x="756" y="695" width="3" height="11" fill="#00ff00"/>
<rect x="772" y="691" width="3" height="15" fill="#00ff00"/>
<rect x="788" y="688" width="3" height="18" fill="#00ff00"/>
<rect x="804" y="683" width="3" height="23" fill="#00ff00"/>
<rect x="820" y="677" width="3" height="29" fill="#00ff00"/>
<rect x="836" y="668" width="3" height="38" fill="#00ff00"/>
<rect x="852" y="658" width="3" height="48" fill="#00ff00"/>
<rect x="868" y="650" width="3" height="56" fill="#00ff00"/>
<rect x="884" y="647" width="3" height="59" fill="#00ff00"/>
<rect x="900" y="644" width="3" height="62" fill="#00ff00"/>
<rect x="916" y="645" width="3" height="61" fill="#00ff00"/>
<rect x="932" y="646" width="3" height="60" fill="#00ff00"/>
<rect x="948" y="644" width="3" height="62" fill="#00ff00"/>
<rect x="964" y="643" width="3" height="63" fill="#00ff00"/>
<rect x="980" y="643" width="3" height="63" fill="#00ff00"/>
<rect x="996" y="645" width="3" height="61" fill="#00ff00"/>
<rect x="1012" y="649" width="3" height="57" fill="#00ff00"/>
<rect x="1028" y="655" width="3" height="51" fill="#00ff00"/>
<rect x="1044" y="661" width="3" height="45" fill="#00ff00"/>
<rect x="1060" y="666" width="3" height="40" fill="#00ff00"/>
<rect x="1076" y="669" width="3" height="37" fill="#00ff00"/>
<rect x="1092" y="672" width="3" height="34" fill="#00ff00"/>
<rect x="1108" y="674" width="3" height="32" fill="#00ff00"/>
<rect x="1124" y="675" width="3" height="31" fill="#00ff00"/>
<rect x="1140" y="673" width="3" height="33" fill="#00ff00"/>
<rect x="1156" y="670" width="3" height="36" fill="#00ff00"/>
<rect x="1172" y="677" width="3" height="29" fill="#00ff00"/>
<rect x="1188" y="690" width="3" height="16" fill="#00ff00"/>
<rect x="1204" y="704" width="3" height="2" fill="#00ff00"/>
<rect x="1220" y="706" width="3" height="3" fill="#00ff00"/>
<rect x="1236" y="706" width="3" height="10" fill="#00ff00"/>
<rect x="1252" y="706" width="3" height="12" fill="#00ff00"/>
<rect x="1268" y="706" width="3" height="15" fill="#00ff00"/>
<rect x="1284" y="706" width="3" height="17" fill="#00ff00"/>
<rect x="1300" y="706" width="3" height="16" fill="#00ff00"/>
<rect x="1316" y="706" width="3" height="14" fill="#00ff00"/>
<rect x="1332" y="706" width="3" height="10" fill="#00ff00"/>
<rect x="1348" y="706" width="3" height="6" fill="#00ff00"/>
<rect x="1364" y="706" width="3" height="4" fill="#00ff00"/>
<polyline points="5.5,697.2 21.5,701.9 37.5,706.9 53.5,711.9 69.5,716.2 85.5,718.2 101.5,719.2 117.5,719.2 133.5,717.7 149.5,715.0 165.5,710.2 181.5,704.9 197.5,699.9 213.5,693.9 229.5,688.9 245.5,684.9 261.5,680.9 277.5,676.9 293.5,674.9 309.5,671.6 325.5,670.6 341.5,669.6 357.5,668.6 373.5,669.0 389.5,669.6 405.5,673.1 421.5,675.1 437.5,677.6 453.5,679.6 469.5,682.6 485.5,685.6 501.5,688.6 517.5,692.6 533.5,694.7 549.5,697.4 565.5,699.4 581.5,702.7 597.5,706.7 613.5,710.7 629.5,714.7 645.5,719.0 661.5,720.5 677.5,723.0 693.5,723.5 709.5,723.5 725.5,721.7 741.5,719.0 757.5,716.2 773.5,712.2 789.5,706.2 805.5,702.2 821.5,697.0 837.5,690.9 853.5,685.6 869.5,679.9 885.5,673.6 901.5,668.1 917.5,663.1 933.5,659.1 949.5,654.1 965.5,650.8 981.5,647.8 997.5,646.0 1013.5,645.8 1029.5,646.8 1045.5,648.5 1061.5,650.8 1077.5,653.8 1093.5,656.8 1109.5,659.6 1125.5,663.8 1141.5,667.1 1157.5,668.8 1173.5,671.8 1189.5,674.9 1205.5,678.9 1221.5,683.9 1237.5,688.1 1253.5,692.0 1269.5,697.2 1285.5,703.9 1301.5,710.2 1317.5,713.9 1333.5,717.2 1349.5,717.2 1365.5,717.2" fill="none" stroke="#ff0000" stroke-width="2" shape-rendering="crispEdges" stroke-linejoin="round"/>
</g>
<g font-family="Liberation Sans, sans-serif" font-size="10" text-rendering="geometricPrecision" stroke-width="0.25" shape-rendering="auto"><text transform="translate(9 650) scale(0.9477 1)" fill="#000" stroke="#000">MACD(12,26,9) -0.0211 -0.0754</text></g>
<g font-family="Liberation Sans, sans-serif" font-size="10" text-rendering="geometricPrecision" stroke-width="0.25" fill="#000" stroke="#000" shape-rendering="auto">
<text transform="translate(1648 648) scale(0.9506 1)">0.4523</text>
<rect x="1645" y="706" width="2" height="1" fill="#000" stroke="none" shape-rendering="crispEdges"/>
<text transform="translate(1648 710) scale(0.9506 1)">0.00</text>
<text transform="translate(1648 737) scale(0.9506 1)">-0.2221</text>
</g>
<g clip-path="url(#c3)">
<line x1="6" y1="760.5" x2="1644" y2="760.5" stroke="#000" stroke-width="1" stroke-dasharray="3 3"/>
<line x1="6" y1="786.5" x2="1644" y2="786.5" stroke="#000" stroke-width="1" stroke-dasharray="3 3"/>
<line x1="6" y1="817.5" x2="1644" y2="817.5" stroke="#000" stroke-width="1" stroke-dasharray="3 3"/>
<polyline points="5.5,799.4 21.5,800.4 37.5,793.6 53.5,788.4 69.5,783.1 85.5,782.6 101.5,781.6 117.5,778.6 133.5,778.6 149.5,778.8 165.5,780.3 181.5,775.4 197.5,775.4 213.5,773.4 229.5,774.4 245.5,774.4 261.5,773.6 277.5,777.4 293.5,776.4 309.5,776.6 325.5,778.4 341.5,778.4 357.5,768.1 373.5,790.1 389.5,791.4 405.5,789.4 421.5,786.4 437.5,783.9 453.5,783.9 469.5,789.1 485.5,786.1 501.5,787.9 517.5,789.9 533.5,791.1 549.5,792.1 565.5,793.6 581.5,796.4 597.5,796.4 613.5,796.4 629.5,796.4 645.5,799.4 661.5,782.9 677.5,784.1 693.5,784.1 709.5,783.9 725.5,779.4 741.5,779.4 757.5,778.9 773.5,778.4 789.5,778.1 805.5,774.6 821.5,773.0 837.5,767.8 853.5,764.8 869.5,764.6 885.5,770.3 901.5,770.3 917.5,774.3 933.5,774.3 949.5,770.6 965.5,770.3 981.5,770.3 997.5,774.3 1013.5,778.4 1029.5,782.1 1045.5,784.6 1061.5,782.9 1077.5,781.6 1093.5,783.4 1109.5,779.9 1125.5,779.4 1141.5,774.6 1157.5,773.3 1173.5,789.1 1189.5,798.4 1205.5,800.4 1221.5,791.4 1237.5,794.4 1253.5,793.5 1269.5,792.1 1285.5,791.1 1301.5,788.9 1317.5,787.9 1333.5,783.4 1349.5,783.4 1365.5,784.6" fill="none" stroke="#1e90ff" stroke-width="2" shape-rendering="crispEdges" stroke-linejoin="round"/>
</g>
<g font-family="Liberation Sans, sans-serif" font-size="10" text-rendering="geometricPrecision" stroke-width="0.25" shape-rendering="auto"><text transform="translate(9 754) scale(0.9477 1)" fill="#000" stroke="#000">RSI(14) 52.4748</text></g>
<g font-family="Liberation Sans, sans-serif" font-size="10" text-rendering="geometricPrecision" stroke-width="0.25" fill="#000" stroke="#000" shape-rendering="auto">
<text transform="translate(1647.6 752) scale(0.89 1)">100</text>
<text transform="translate(1647.6 764) scale(0.89 1)">80</text>
<text transform="translate(1647.6 790) scale(0.89 1)">50</text>
<text transform="translate(1647.6 821) scale(0.89 1)">15</text>
<text transform="translate(1647.6 828.5) scale(0.89 1)">0</text>
</g>
<g font-family="Liberation Sans, sans-serif" font-size="10" text-rendering="geometricPrecision" stroke-width="0.25" fill="#000" stroke="#000" shape-rendering="auto">
<rect x="5" y="832" width="1" height="3" fill="#000" stroke="none" shape-rendering="crispEdges"/>
<text transform="translate(4 844) scale(0.9604 1)">23 Aug 2023</text>
<rect x="69" y="832" width="1" height="3" fill="#000" stroke="none" shape-rendering="crispEdges"/>
<text transform="translate(68 844) scale(0.9604 1)">24 Aug 08:00</text>
<rect x="133" y="832" width="1" height="3" fill="#000" stroke="none" shape-rendering="crispEdges"/>
<text transform="translate(132 844) scale(0.9604 1)">25 Aug 00:00</text>
<rect x="197" y="832" width="1" height="3" fill="#000" stroke="none" shape-rendering="crispEdges"/>
<text transform="translate(196 844) scale(0.9604 1)">25 Aug 16:00</text>
<rect x="261" y="832" width="1" height="3" fill="#000" stroke="none" shape-rendering="crispEdges"/>
<text transform="translate(260 844) scale(0.9604 1)">28 Aug 08:00</text>
<rect x="325" y="832" width="1" height="3" fill="#000" stroke="none" shape-rendering="crispEdges"/>
<text transform="translate(324 844) scale(0.9604 1)">29 Aug 00:00</text>
<rect x="389" y="832" width="1" height="3" fill="#000" stroke="none" shape-rendering="crispEdges"/>
<text transform="translate(388 844) scale(0.9604 1)">29 Aug 16:00</text>
<rect x="453" y="832" width="1" height="3" fill="#000" stroke="none" shape-rendering="crispEdges"/>
<text transform="translate(452 844) scale(0.9604 1)">30 Aug 08:00</text>
<rect x="517" y="832" width="1" height="3" fill="#000" stroke="none" shape-rendering="crispEdges"/>
<text transform="translate(516 844) scale(0.9604 1)">31 Aug 00:00</text>
<rect x="581" y="832" width="1" height="3" fill="#000" stroke="none" shape-rendering="crispEdges"/>
<text transform="translate(580 844) scale(0.9604 1)">31 Aug 16:00</text>
<rect x="645" y="832" width="1" height="3" fill="#000" stroke="none" shape-rendering="crispEdges"/>
<text transform="translate(644 844) scale(0.9604 1)">1 Sep 08:00</text>
<rect x="709" y="832" width="1" height="3" fill="#000" stroke="none" shape-rendering="crispEdges"/>
<text transform="translate(708 844) scale(0.9604 1)">4 Sep 00:00</text>
<rect x="773" y="832" width="1" height="3" fill="#000" stroke="none" shape-rendering="crispEdges"/>
<text transform="translate(772 844) scale(0.9604 1)">4 Sep 16:00</text>
<rect x="837" y="832" width="1" height="3" fill="#000" stroke="none" shape-rendering="crispEdges"/>
<text transform="translate(836 844) scale(0.9604 1)">5 Sep 08:00</text>
<rect x="901" y="832" width="1" height="3" fill="#000" stroke="none" shape-rendering="crispEdges"/>
<text transform="translate(900 844) scale(0.9604 1)">6 Sep 00:00</text>
<rect x="965" y="832" width="1" height="3" fill="#000" stroke="none" shape-rendering="crispEdges"/>
<text transform="translate(964 844) scale(0.9604 1)">6 Sep 16:00</text>
<rect x="1029" y="832" width="1" height="3" fill="#000" stroke="none" shape-rendering="crispEdges"/>
<text transform="translate(1028 844) scale(0.9604 1)">7 Sep 08:00</text>
<rect x="1093" y="832" width="1" height="3" fill="#000" stroke="none" shape-rendering="crispEdges"/>
<text transform="translate(1092 844) scale(0.9604 1)">8 Sep 00:00</text>
<rect x="1157" y="832" width="1" height="3" fill="#000" stroke="none" shape-rendering="crispEdges"/>
<text transform="translate(1156 844) scale(0.9604 1)">8 Sep 16:00</text>
<rect x="1221" y="832" width="1" height="3" fill="#000" stroke="none" shape-rendering="crispEdges"/>
<text transform="translate(1220 844) scale(0.9604 1)">11 Sep 08:00</text>
<rect x="1285" y="832" width="1" height="3" fill="#000" stroke="none" shape-rendering="crispEdges"/>
<text transform="translate(1284 844) scale(0.9604 1)">12 Sep 00:00</text>
<rect x="1349" y="832" width="1" height="3" fill="#000" stroke="none" shape-rendering="crispEdges"/>
<text transform="translate(1348 844) scale(0.9604 1)">12 Sep 16:00</text>
</g>
</svg>
</body></html>
